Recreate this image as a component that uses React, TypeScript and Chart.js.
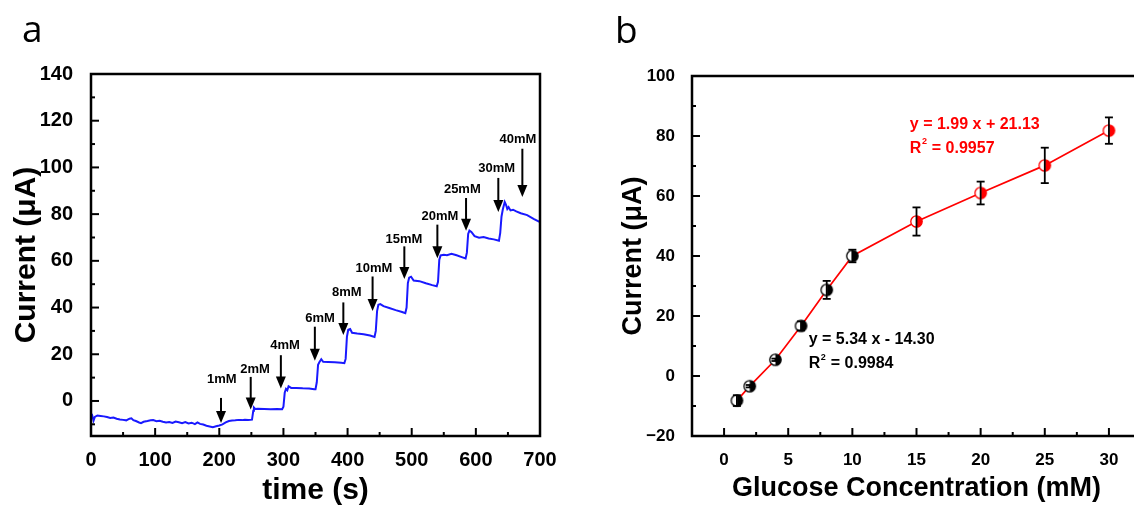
import React, { useEffect, useRef } from 'react';
import { Chart, registerables } from 'chart.js';

Chart.register(...registerables);

const FONT = "'Liberation Sans', Arial, Helvetica, sans-serif";
const LETTER_FONT = "'Open Sans', 'Noto Sans', sans-serif";

// ---------- Panel a: amperometric response ----------
const currentTrace: [number, number][] = [
  [0, -7.2], [2, -6.3], [4, -8.4], [6, -6.8], [10, -6.2], [15, -6.4], [20, -6.6], [25, -6.9],
  [30, -7.3], [35, -7.1], [40, -7.6], [45, -7.9], [50, -8.1], [55, -8.3], [60, -7.6], [63, -7.4],
  [66, -8.2], [70, -8.6], [75, -9.2], [78, -9.5], [82, -8.9], [88, -8.6], [93, -8.3], [97, -8.2],
  [102, -8.7], [107, -8.5], [112, -8.9], [117, -9.2], [122, -9.0], [127, -9.4], [132, -8.8],
  [137, -9.1], [142, -9.5], [147, -9.0], [152, -9.6], [157, -9.3], [162, -9.9], [166, -9.2],
  [170, -9.8], [175, -10.1], [180, -10.6], [185, -10.9], [190, -11.2], [195, -10.8], [200, -10.5],
  [205, -10.0], [210, -9.2], [215, -8.6], [220, -8.4], [225, -8.3], [230, -8.1], [235, -8.2],
  [240, -8.0], [245, -8.1], [251, -8.0],
  [253, -4.2], [254, -2.8], [256, -3.4], [260, -3.3], [270, -3.4], [280, -3.5], [290, -3.4], [298, -3.5],
  [300, -2.5], [302, 3.5], [304, 5.2], [306, 4.6], [308, 6.3], [312, 5.6], [320, 5.6], [330, 5.4],
  [340, 5.3], [348, 5.0], [350, 5.0],
  [352, 8.0], [354, 15.5], [356, 16.6], [359, 17.9], [362, 16.8], [370, 16.7], [380, 16.6], [390, 16.4], [395, 16.2],
  [397, 18.0], [399, 27.5], [401, 30.5], [404, 30.8], [407, 29.2], [415, 28.9], [425, 28.6], [435, 28.0], [442, 27.4],
  [444, 30.0], [446, 38.5], [448, 41.2], [451, 41.5], [456, 40.6], [465, 39.8], [475, 38.9], [485, 38.1], [490, 37.6],
  [492, 40.0], [494, 50.5], [496, 52.8], [499, 53.2], [503, 51.6], [512, 51.3], [522, 50.4], [532, 49.6], [539, 49.1],
  [541, 51.0], [543, 60.5], [545, 62.3], [550, 62.6], [555, 62.4], [562, 63.0], [570, 62.4], [578, 61.6], [584, 61.0],
  [586, 63.5], [588, 71.5], [590, 73.0], [593, 72.4], [598, 70.6], [605, 69.9], [612, 70.2], [620, 69.6], [628, 69.2], [636, 68.6],
  [638, 72.0], [640, 79.0], [642, 82.0], [645, 85.2], [647, 84.0], [649, 82.2], [651, 83.0], [654, 81.6],
  [658, 81.9], [663, 81.2], [670, 80.4], [680, 79.6], [690, 78.0], [700, 76.6],
];

const additionLabels = ['1mM', '2mM', '4mM', '6mM', '8mM', '10mM', '15mM', '20mM', '25mM', '30mM', '40mM'];
const additionTimes = [202.7, 249, 296, 349, 393.4, 439, 488.5, 540, 584.7, 635, 672.5];
const arrowTailCurrents = [1.3, 10.3, 19.6, 31.8, 42.2, 53.3, 66.2, 75.5, 86.9, 95.5, 108];
const arrowTipCurrents = [-9.4, -3.7, 5.3, 17.2, 28.2, 38.5, 52.2, 61.1, 72.9, 80.9, 87.3];
const labelTimes = [203.8, 255.7, 302.5, 357, 398.7, 441.2, 488, 544, 578.9, 632.5, 665.7];
const labelCurrents = [9.2, 13.7, 23.9, 35.3, 46.5, 56.6, 69.3, 79.1, 90.5, 99.4, 111.8];

const timeTicks = [0, 100, 200, 300, 400, 500, 600, 700];
const currentTicksA = [0, 20, 40, 60, 80, 100, 120, 140];

// ---------- Panel b: calibration ----------
const concentrations = [1, 2, 4, 6, 8, 10, 15, 20, 25, 30];
const meanCurrents = [-8.2, -3.4, 5.4, 16.7, 28.7, 40.0, 51.5, 61.0, 70.2, 81.8];
const currentErrors = [1.8, 0.4, 0.4, 1.5, 3.0, 2.1, 4.7, 3.8, 5.9, 4.4];
const concTicks = [0, 5, 10, 15, 20, 25, 30];
const currentTicksB = [-20, 0, 20, 40, 60, 80, 100];

const lowFitEquation = 'y = 5.34 x - 14.30';
const lowFitR2 = '0.9984';
const highFitEquation = 'y = 1.99 x + 21.13';
const highFitR2 = '0.9957';
const lowFitAnchor = [6.6, 12.2, 4.0];
const highFitAnchor = [14.48, 83.8, 75.8];

function hLine(ctx: CanvasRenderingContext2D, x1: number, y1: number, x2: number, y2: number) {
  ctx.beginPath();
  ctx.moveTo(x1, y1);
  ctx.lineTo(x2, y2);
  ctx.stroke();
}

function drawR2(ctx: CanvasRenderingContext2D, x: number, y: number, value: string, size: number) {
  ctx.textAlign = 'left';
  ctx.textBaseline = 'middle';
  ctx.font = `bold ${size}px ${FONT}`;
  ctx.fillText('R', x, y);
  const wR = ctx.measureText('R').width;
  ctx.font = `bold ${Math.round(size * 0.55)}px ${FONT}`;
  ctx.fillText('2', x + wR + 0.5, y - size * 0.42);
  const w2 = ctx.measureText('2').width;
  ctx.font = `bold ${size}px ${FONT}`;
  ctx.fillText(' = ' + value, x + wR + w2 + 1, y);
}

function makeMarker(color: string) {
  const c = document.createElement('canvas');
  c.width = 15;
  c.height = 15;
  const g = c.getContext('2d')!;
  const r = 5.7, cx = 7.5, cy = 7.5;
  g.beginPath();
  g.arc(cx, cy, r, 0, Math.PI * 2);
  g.fillStyle = '#fff';
  g.fill();
  g.beginPath();
  g.moveTo(cx, cy - r);
  g.arc(cx, cy, r, -Math.PI / 2, Math.PI / 2);
  g.closePath();
  g.fillStyle = color;
  g.fill();
  g.beginPath();
  g.arc(cx, cy, r, 0, Math.PI * 2);
  g.lineWidth = 1.3;
  g.strokeStyle = color;
  g.stroke();
  return c;
}

function zeroPad(s: any) {
  s.paddingLeft = 0;
  s.paddingRight = 0;
  s.paddingTop = 0;
  s.paddingBottom = 0;
}

export default function App() {
  const leftRef = useRef<HTMLCanvasElement>(null);
  const rightRef = useRef<HTMLCanvasElement>(null);

  useEffect(() => {
    const tickFontA = { family: FONT, size: 20, weight: 'bold' as const };
    const leftPlugin = {
      id: 'leftDecor',
      afterDraw(chart: any) {
        const { ctx, chartArea: a, scales } = chart;
        const x = scales.x, y = scales.y;
        ctx.save();
        ctx.strokeStyle = '#000';
        ctx.lineWidth = 2;
        for (let v = -10; v <= 140; v += 10) {
          const py = y.getPixelForValue(v);
          hLine(ctx, a.left, py, a.left + (v % 20 === 0 ? 8 : 4), py);
        }
        for (let t = 50; t < 700; t += 50) {
          const px = x.getPixelForValue(t);
          hLine(ctx, px, a.bottom, px, a.bottom - (t % 100 === 0 ? 8 : 4));
        }
        ctx.lineWidth = 2.5;
        ctx.strokeRect(a.left, a.top, a.right - a.left, a.bottom - a.top);

        // arrows
        ctx.fillStyle = '#000';
        for (let i = 0; i < additionTimes.length; i++) {
          const px = x.getPixelForValue(additionTimes[i]);
          const pt = y.getPixelForValue(arrowTailCurrents[i]);
          const pb = y.getPixelForValue(arrowTipCurrents[i]);
          ctx.lineWidth = 2;
          hLine(ctx, px, pt, px, pb - 10);
          ctx.beginPath();
          ctx.moveTo(px - 5, pb - 12);
          ctx.lineTo(px + 5, pb - 12);
          ctx.lineTo(px, pb);
          ctx.closePath();
          ctx.fill();
          ctx.font = `bold 13px ${FONT}`;
          ctx.textAlign = 'center';
          ctx.textBaseline = 'middle';
          ctx.fillText(additionLabels[i], x.getPixelForValue(labelTimes[i]), y.getPixelForValue(labelCurrents[i]));
        }

        ctx.font = `37px ${LETTER_FONT}`;
        ctx.textAlign = 'left';
        ctx.textBaseline = 'alphabetic';
        ctx.fillText('a', 22, 42);
        ctx.restore();
      },
    };

    const left = new Chart(leftRef.current!, {
      type: 'scatter',
      data: {
        datasets: [
          {
            data: currentTrace.map(([t, i]) => ({ x: t, y: i })),
            showLine: true,
            borderColor: 'rgb(25,25,255)',
            borderWidth: 2,
            pointRadius: 0,
            tension: 0,
          },
        ],
      },
      options: {
        responsive: false,
        animation: false,
        events: [],
        layout: { padding: { left: 0, right: 20, top: 74, bottom: 0 } },
        plugins: { legend: { display: false }, tooltip: { enabled: false } },
        scales: {
          x: {
            type: 'linear',
            min: 0,
            max: 700,
            afterBuildTicks: (s: any) => { s.ticks = timeTicks.map((v) => ({ value: v })); },
            afterFit: (s: any) => { s.height = 70; zeroPad(s); },
            grid: { display: false },
            border: { display: false },
            ticks: { font: tickFontA, color: '#000', padding: 4, maxRotation: 0, autoSkip: false },
            title: {
              display: true,
              text: 'time (s)',
              color: '#000',
              font: { family: FONT, size: 30, weight: 'bold', lineHeight: 1 },
              padding: { top: 0, bottom: 0 },
            },
          },
          y: {
            type: 'linear',
            min: -15,
            max: 140,
            afterBuildTicks: (s: any) => { s.ticks = currentTicksA.map((v) => ({ value: v })); },
            afterFit: (s: any) => { s.width = 91; zeroPad(s); },
            grid: { display: false },
            border: { display: false },
            ticks: { font: tickFontA, color: '#000', padding: 10, autoSkip: false },
            title: {
              display: true,
              text: 'Current (μA)',
              color: '#000',
              font: { family: FONT, size: 30, weight: 'bold', lineHeight: 1.2 },
              padding: { top: 9, bottom: 0 },
            },
          },
        },
      },
      plugins: [leftPlugin],
    } as any);

    // ---------- right ----------
    const blackMarker = makeMarker('#000');
    const redMarker = makeMarker('#ff0000');
    const tickFontB = { family: FONT, size: 17, weight: 'bold' as const };

    const rightPlugin = {
      id: 'rightDecor',
      afterDatasetsDraw(chart: any) {
        const { ctx, scales } = chart;
        const x = scales.x, y = scales.y;
        ctx.save();
        ctx.strokeStyle = '#000';
        ctx.lineWidth = 1.8;
        for (let i = 0; i < concentrations.length; i++) {
          const px = x.getPixelForValue(concentrations[i]);
          const pt = y.getPixelForValue(meanCurrents[i] + currentErrors[i]);
          const pb = y.getPixelForValue(meanCurrents[i] - currentErrors[i]);
          hLine(ctx, px, pt, px, pb);
          hLine(ctx, px - 4, pt, px + 4, pt);
          hLine(ctx, px - 4, pb, px + 4, pb);
        }
        ctx.restore();
      },
      afterDraw(chart: any) {
        const { ctx, chartArea: a, scales } = chart;
        const x = scales.x, y = scales.y;
        ctx.save();
        ctx.strokeStyle = '#000';
        ctx.lineWidth = 2;
        for (let v = -10; v < 100; v += 10) {
          const py = y.getPixelForValue(v);
          hLine(ctx, a.left, py, a.left + (v % 20 === 0 ? 8 : 4), py);
        }
        for (let c = 0; c <= 30; c += 2.5) {
          const px = x.getPixelForValue(c);
          hLine(ctx, px, a.bottom, px, a.bottom - (c % 5 === 0 ? 8 : 4));
        }
        ctx.lineWidth = 2.5;
        ctx.strokeRect(a.left, a.top, a.right - a.left, a.bottom - a.top);

        // equations
        ctx.fillStyle = '#ff0000';
        ctx.font = `bold 16px ${FONT}`;
        ctx.textAlign = 'left';
        ctx.textBaseline = 'middle';
        const hx = x.getPixelForValue(highFitAnchor[0]);
        ctx.fillText(highFitEquation, hx, y.getPixelForValue(highFitAnchor[1]));
        drawR2(ctx, hx, y.getPixelForValue(highFitAnchor[2]), highFitR2, 16);

        ctx.fillStyle = '#000';
        ctx.font = `bold 16px ${FONT}`;
        const lx = x.getPixelForValue(lowFitAnchor[0]);
        ctx.fillText(lowFitEquation, lx, y.getPixelForValue(lowFitAnchor[1]));
        drawR2(ctx, lx, y.getPixelForValue(lowFitAnchor[2]), lowFitR2, 16);

        ctx.font = `37px ${LETTER_FONT}`;
        ctx.textAlign = 'left';
        ctx.textBaseline = 'alphabetic';
        ctx.fillText('b', 35, 43);
        ctx.restore();
      },
    };

    const right = new Chart(rightRef.current!, {
      type: 'scatter',
      data: {
        datasets: [
          {
            data: concentrations.map((c, i) => ({ x: c, y: meanCurrents[i] })),
            showLine: true,
            borderColor: '#ff0000',
            borderWidth: 1.7,
            pointStyle: concentrations.map((c) => (c <= 10 ? blackMarker : redMarker)),
            pointRadius: 6,
            tension: 0,
          },
        ],
      },
      options: {
        responsive: false,
        animation: false,
        events: [],
        layout: { padding: { left: 0, right: 39, top: 76, bottom: 0 } },
        plugins: { legend: { display: false }, tooltip: { enabled: false } },
        scales: {
          x: {
            type: 'linear',
            min: -2.5,
            max: 32.5,
            afterBuildTicks: (s: any) => { s.ticks = concTicks.map((v) => ({ value: v })); },
            afterFit: (s: any) => { s.height = 70; zeroPad(s); },
            grid: { display: false },
            border: { display: false },
            ticks: { font: tickFontB, color: '#000', padding: 6, maxRotation: 0, autoSkip: false },
            title: {
              display: true,
              text: 'Glucose Concentration (mM)',
              color: '#000',
              font: { family: FONT, size: 27, weight: 'bold', lineHeight: 1 },
              padding: { top: 0, bottom: 4 },
            },
          },
          y: {
            type: 'linear',
            min: -20,
            max: 100,
            afterBuildTicks: (s: any) => { s.ticks = currentTicksB.map((v) => ({ value: v })); },
            afterFit: (s: any) => { s.width = 112; zeroPad(s); },
            grid: { display: false },
            border: { display: false },
            ticks: {
              font: tickFontB,
              color: '#000',
              padding: 9,
              autoSkip: false,
              callback: (v: any) => (v < 0 ? '\u2212' + Math.abs(v) : String(v)),
            },
            title: {
              display: true,
              text: 'Current (μA)',
              color: '#000',
              font: { family: FONT, size: 27, weight: 'bold', lineHeight: 1.2 },
              padding: { top: 37.8, bottom: 0 },
            },
          },
        },
      },
      plugins: [rightPlugin],
    } as any);

    return () => {
      left.destroy();
      right.destroy();
    };
  }, []);

  return (
    <div
      style={{
        position: 'fixed',
        left: 0,
        top: 0,
        width: 1134,
        height: 506,
        overflow: 'hidden',
        background: '#fff',
      }}
    >
      <canvas
        ref={leftRef}
        width={560}
        height={506}
        style={{ position: 'absolute', left: 0, top: 0, width: 560, height: 506 }}
      />
      <canvas
        ref={rightRef}
        width={600}
        height={506}
        style={{ position: 'absolute', left: 580, top: 0, width: 600, height: 506 }}
      />
    </div>
  );
}
